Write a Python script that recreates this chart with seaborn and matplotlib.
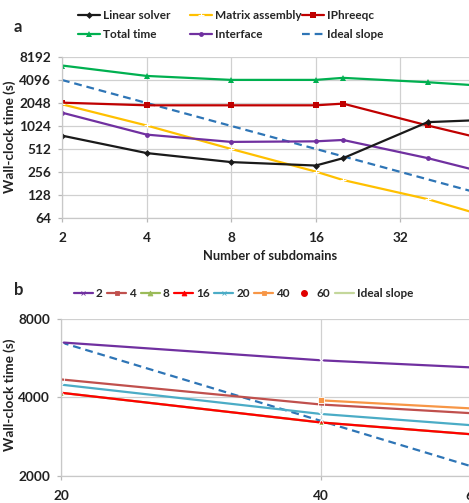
import numpy as np
import pandas as pd
import seaborn as sns
import matplotlib.pyplot as plt
from matplotlib.lines import Line2D
from matplotlib.ticker import FixedLocator, NullLocator, FixedFormatter

# ---- panel a data: time per component vs number of subdomains
subdomains = [2, 4, 8, 16, 20, 40, 60]
linear_solver = [766, 453, 345, 311, 388, 1150, 1220]
matrix_assembly = [1970, 1040, 512, 259, 201, 113, 73]
iphreeqc = [2070, 1910, 1910, 1910, 2010, 1040, 727]
total_time = [6340, 4630, 4110, 4110, 4370, 3830, 3480]
interface = [1530, 790, 634, 645, 672, 389, 267]
ideal_a_x = [2, 60]
ideal_a_y = [4096, 137]

# ---- panel b data: wall-clock time vs cores, one line per subdomain count
cores = [20, 40, 60]
b_series = {
    "2": [6490, 5540, 5200],
    "4": [4680, 3750, 3470],
    "8": [4160, 3200, 2880],
    "16": [4160, 3200, 2880],
    "20": [4470, 3450, 3120],
    "40": [np.nan, 3890, 3620],
    "60": [np.nan, np.nan, 2750],
}
ideal_b = [6490, 3245, 2163]

sns.set_theme(style="white")
plt.rcParams['font.family'] = ['Lato', 'DejaVu Sans']
plt.rcParams['font.weight'] = 'bold'

W, H = 469, 503
fig = plt.figure(figsize=(W / 100, H / 100), dpi=100)

def px_axes(left, right, top, bottom):
    return fig.add_axes([left / W, 1 - bottom / H, (right - left) / W, (bottom - top) / H])

def style_axes(ax):
    ax.grid(True, color='#d0d0d0', lw=0.9)
    for s in ['top', 'right']:
        ax.spines[s].set_visible(False)
    for s in ['left', 'bottom']:
        ax.spines[s].set_color('#c8c8c8')
        ax.spines[s].set_linewidth(0.9)
    ax.tick_params(axis='both', length=3, width=0.9, color='#b8b8b8',
                   labelsize=9.8, colors='#222222', bottom=True, left=True)
    ax.tick_params(axis='y', pad=5)
    ax.tick_params(axis='x', pad=7)
    ax.xaxis.set_minor_locator(NullLocator())
    ax.yaxis.set_minor_locator(NullLocator())

# ================= panel a =================
ax1 = px_axes(62, 485, 57, 218)
ax1.set_xscale('log', base=2)
ax1.set_yscale('log', base=2)

lw = 1.6
sns.lineplot(x=subdomains, y=total_time, ax=ax1, color='#00b050', lw=lw, marker='^',
             markersize=4, markeredgewidth=0, label='Total time')
sns.lineplot(x=ideal_a_x, y=ideal_a_y, ax=ax1, color='#2e75b6', lw=lw,
             linestyle=(0, (3.5, 2.2)), label='Ideal slope')
sns.lineplot(x=subdomains, y=iphreeqc, ax=ax1, color='#c00000', lw=lw, marker='s',
             markersize=4.5, markeredgewidth=0, label='IPhreeqc')
sns.lineplot(x=subdomains, y=matrix_assembly, ax=ax1, color='#ffc000', lw=lw, marker='+',
             markersize=4, markeredgewidth=0.8, label='Matrix assembly')
sns.lineplot(x=subdomains, y=interface, ax=ax1, color='#7030a0', lw=lw, marker='o',
             markersize=3.5, markeredgewidth=0, label='Interface')
sns.lineplot(x=subdomains, y=linear_solver, ax=ax1, color='#1a1a1a', lw=lw, marker='D',
             markersize=3.5, markeredgewidth=0, label='Linear solver')

ax1.set_xlim(2, 64)
ax1.set_ylim(64, 8192)
style_axes(ax1)
ax1.xaxis.set_major_locator(FixedLocator([2, 4, 8, 16, 32, 64]))
ax1.xaxis.set_major_formatter(FixedFormatter(['2', '4', '8', '16', '32', '64']))
ax1.yaxis.set_major_locator(FixedLocator([64, 128, 256, 512, 1024, 2048, 4096, 8192]))
ax1.yaxis.set_major_formatter(FixedFormatter(['64', '128', '256', '512', '1024', '2048', '4096', '8192']))
ax1.set_xlabel('Number of subdomains', fontsize=9.3, fontweight='bold', color='#222222')
ax1.set_ylabel('Wall-clock time (s)', fontsize=9.8, fontweight='bold', color='#222222')
ax1.xaxis.set_label_coords((270 - 62) / (485 - 62), -(250 - 218) / (218 - 57))
ax1.yaxis.set_label_coords(-(62 - 16) / (485 - 62), (218 - 137) / (218 - 57))
ax1.get_legend().remove()

hd = {h.get_label(): h for h in ax1.get_lines()}
columns = [['Linear solver', 'Total time'], ['Matrix assembly', 'Interface'], ['IPhreeqc', 'Ideal slope']]
for x0, names in zip([78, 190, 302], columns):
    fig.legend([hd[n] for n in names], names, loc='upper left', bbox_to_anchor=(x0 / W, 1 - 10 / H),
               frameon=False, handlelength=1.9, handletextpad=0.25,
               borderpad=0, borderaxespad=0, labelspacing=0.72, prop={'weight': 'bold', 'size': 8.5})

fig.text(14 / W, 1 - 27 / H, 'a', fontsize=12, fontweight='bold', va='center', ha='left')

# ================= panel b =================
ax2 = px_axes(61, 473, 318.7, 475.7)
ax2.set_xscale('log', base=2)
ax2.set_yscale('log', base=2)

b_colors = {"2": '#7030a0', "4": '#c0504d', "8": '#9bbb59', "16": '#ff0000',
            "20": '#4bacc6', "40": '#f79646', "60": '#e00000'}
b_markers = {"2": 'x', "4": 's', "8": '^', "16": '^', "20": 'x', "40": 's', "60": 'o'}

sns.lineplot(x=cores, y=ideal_b, ax=ax2, color='#2e75b6', lw=lw, linestyle=(0, (3.5, 2.2)))
for name in ["8", "2", "4", "20", "40", "16", "60"]:
    mk = b_markers[name]
    sns.lineplot(x=cores, y=b_series[name], ax=ax2, color=b_colors[name], lw=lw, marker=mk,
                 markersize=4, markeredgewidth=0.8 if mk == 'x' else 0.6,
                 markerfacecolor='none' if name in ("4", "16") else b_colors[name])

ax2.set_xlim(20, 60)
ax2.set_ylim(2000, 8000)
style_axes(ax2)
ax2.xaxis.set_major_locator(FixedLocator([20, 40, 60]))
ax2.xaxis.set_major_formatter(FixedFormatter(['20', '40', '60']))
ax2.yaxis.set_major_locator(FixedLocator([2000, 4000, 8000]))
ax2.yaxis.set_major_formatter(FixedFormatter(['2000', '4000', '8000']))
ax2.set_ylabel('Wall-clock time (s)', fontsize=9.8, fontweight='bold', color='#222222')
ax2.yaxis.set_label_coords(-(61 - 16) / (473 - 61), (475.7 - 395) / (475.7 - 318.7))

b_labels = ["2", "4", "8", "16", "20", "40", "60", "Ideal slope"]
b_handles = []
for name in b_labels[:-1]:
    if name == "60":
        b_handles.append(Line2D([], [], color=b_colors[name], lw=0, marker='o', markersize=4))
    else:
        b_handles.append(Line2D([], [], color=b_colors[name], lw=lw, marker=b_markers[name],
                                markersize=3.5, markeredgewidth=0.6))
b_handles.append(Line2D([], [], color='#c4d79b', lw=lw))
fig.legend(b_handles, b_labels, loc='upper left', bbox_to_anchor=(74 / W, 1 - 288 / H), ncol=8,
           frameon=False, handlelength=1.6, handletextpad=0.25, columnspacing=0.4,
           borderpad=0, borderaxespad=0, prop={'weight': 'bold', 'size': 8.5})

fig.text(14 / W, 1 - 290 / H, 'b', fontsize=12, fontweight='bold', va='center', ha='left')

fig.savefig('out.png', dpi=100)
